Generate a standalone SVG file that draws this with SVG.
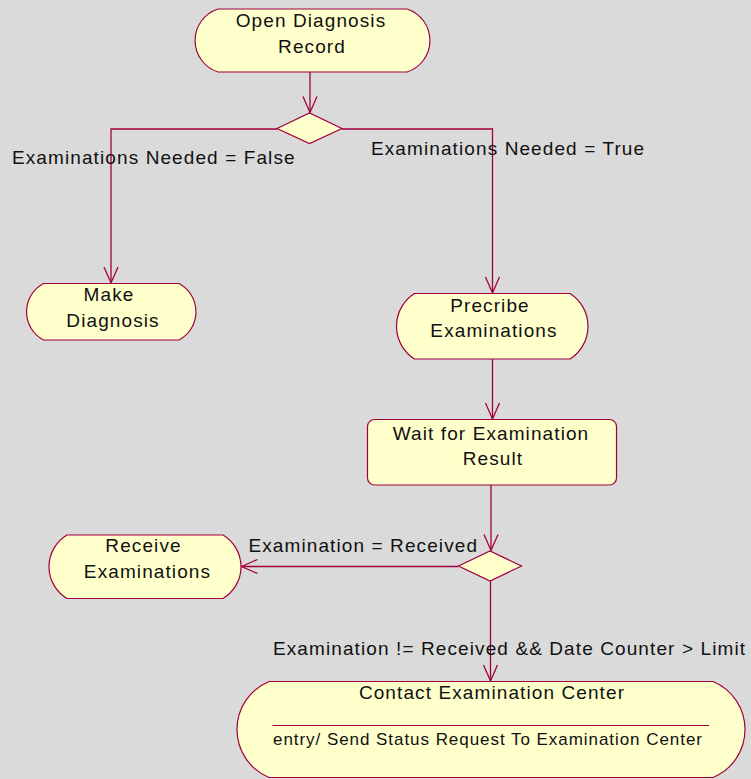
<svg xmlns="http://www.w3.org/2000/svg" width="751" height="779" viewBox="0 0 751 779">
  <style>
    .node { fill: #ffffcc; stroke: #a0003c; stroke-width: 1.2; }
    .edge { fill: none; stroke: #a0003c; stroke-width: 1.3; }
    text { font-family: "Liberation Sans", Arial, sans-serif; font-size: 19px; fill: #111; letter-spacing: 1.1px; }
    .c { text-anchor: middle; }
    .small { font-size: 17px; letter-spacing: 0.95px; }
  </style>
  <defs>
    <marker id="open-arrow" markerUnits="userSpaceOnUse" markerWidth="20" markerHeight="20" viewBox="-18 -9 20 18" refX="0" refY="0" orient="auto">
      <path d="M-16,-7 L0,0 L-16,7" fill="none" stroke="#a0003c" stroke-width="1.3"/>
    </marker>
  </defs>

  <rect width="751" height="779" fill="#dadada"/>

  <g id="connectors">
    <path class="edge" d="M310,72 V112.5" marker-end="url(#open-arrow)"/>
    <path class="edge" d="M277,129 H111 V283" marker-end="url(#open-arrow)"/>
    <path class="edge" d="M342,129 H492.5 V293" marker-end="url(#open-arrow)"/>
    <path class="edge" d="M492.5,359 V419" marker-end="url(#open-arrow)"/>
    <path class="edge" d="M491,485 V550.5" marker-end="url(#open-arrow)"/>
    <path class="edge" d="M458.5,566.5 H241.5" marker-end="url(#open-arrow)"/>
    <path class="edge" d="M490.5,581 V681" marker-end="url(#open-arrow)"/>
    <text x="12" y="163.5">Examinations Needed = False</text>
    <text x="371" y="154.5">Examinations Needed = True</text>
    <text x="248.5" y="552">Examination = Received</text>
    <text x="273" y="655">Examination != Received &amp;&amp; Date Counter &gt; Limit</text>
  </g>

  <g id="open-diagnosis-record">
    <path class="node" d="M218,9 H407 A33.1,33.1 0 0 1 407,72 H218 A33.1,33.1 0 0 1 218,9 Z"/>
    <text class="c" x="311" y="27">Open Diagnosis</text>
    <text class="c" x="312" y="53">Record</text>
  </g>

  <g id="decision-examinations-needed">
    <polygon class="node" points="277,128.5 309.5,113 342,128.5 309.5,143.5"/>
  </g>

  <g id="make-diagnosis">
    <path class="node" d="M43.5,283.5 H179 A32,32 0 0 1 179,340 H43.5 A32,32 0 0 1 43.5,283.5 Z"/>
    <text class="c" x="109" y="301">Make</text>
    <text class="c" x="113" y="327">Diagnosis</text>
  </g>

  <g id="precribe-examinations">
    <path class="node" d="M414.5,293.5 H570 A38.8,38.8 0 0 1 570,359 H414.5 A38.8,38.8 0 0 1 414.5,293.5 Z"/>
    <text class="c" x="490" y="311.5">Precribe</text>
    <text class="c" x="494" y="337">Examinations</text>
  </g>

  <g id="wait-for-examination-result">
    <rect class="node" x="367.5" y="419.5" width="249" height="65.5" rx="7" ry="7"/>
    <text class="c" x="491" y="440">Wait for Examination</text>
    <text class="c" x="493" y="465">Result</text>
  </g>

  <g id="decision-examination-received">
    <polygon class="node" points="458.5,566 490,551 521.5,566 490,581"/>
  </g>

  <g id="receive-examinations">
    <path class="node" d="M67,535 H223 A37,37 0 0 1 223,598.5 H67 A37,37 0 0 1 67,535 Z"/>
    <text class="c" x="143.5" y="552">Receive</text>
    <text class="c" x="147.5" y="578">Examinations</text>
  </g>

  <g id="contact-examination-center">
    <path class="node" d="M269,681.5 H713 A52,52 0 0 1 713,777.5 H269 A52,52 0 0 1 269,681.5 Z"/>
    <text class="c" x="492" y="699">Contact Examination Center</text>
    <line x1="272.5" y1="725.5" x2="709" y2="725.5" stroke="#a0003c" stroke-width="1.2"/>
    <text class="small" x="273" y="744.5">entry/ Send Status Request To Examination Center</text>
  </g>
</svg>
